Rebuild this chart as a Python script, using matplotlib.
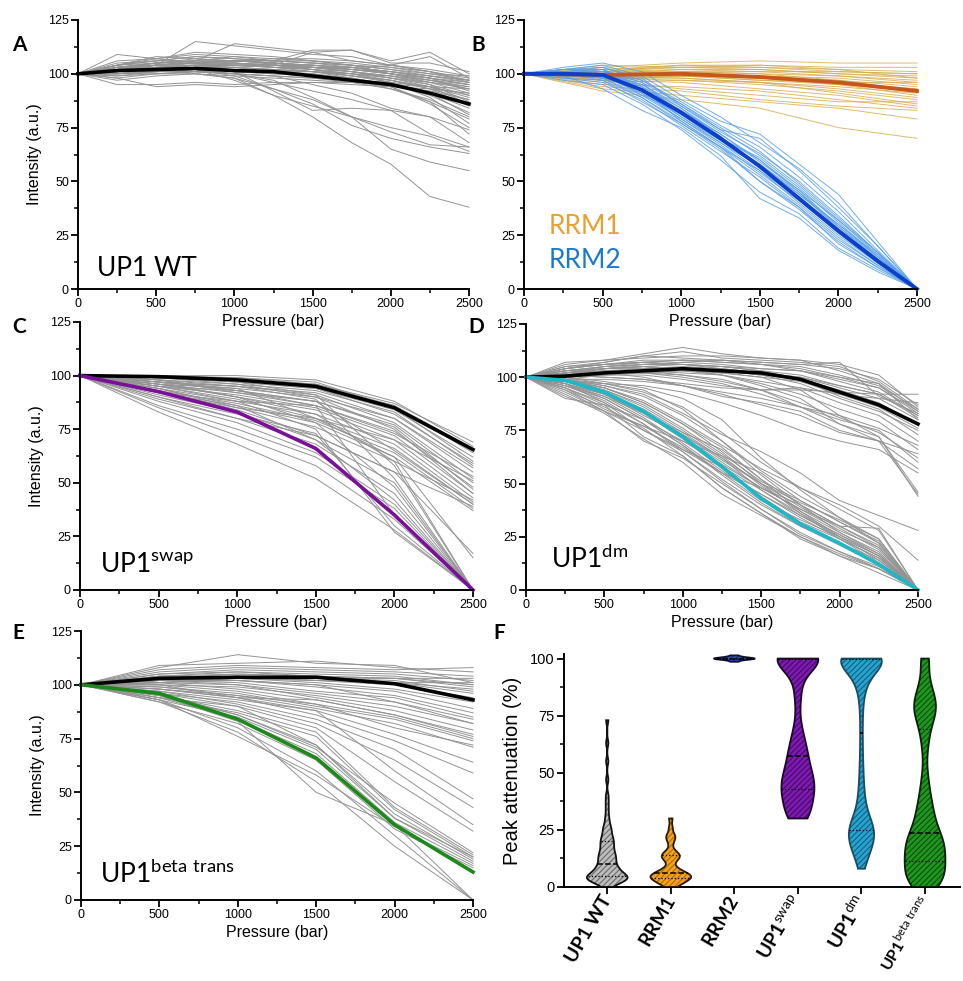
import numpy as np
import matplotlib
matplotlib.use("Agg")
import matplotlib.pyplot as plt
from matplotlib.patches import PathPatch
from matplotlib.ticker import MultipleLocator

plt.rcParams['font.family'] = ['Liberation Sans', 'DejaVu Sans']
plt.rcParams['mathtext.fontset'] = 'custom'
plt.rcParams['mathtext.rm'] = 'Lato'
plt.rcParams['mathtext.bf'] = 'Lato:bold'
plt.rcParams['hatch.linewidth'] = 0.8

# pressure steps
p11 = [0, 250, 500, 750, 1000, 1250, 1500, 1750, 2000, 2250, 2500]
p6 = [0, 500, 1000, 1500, 2000, 2500]

# A: UP1 WT traces (11 points)
wt_traces = [
    [100, 104, 106, 108, 107, 106, 105, 104, 102, 99, 96],
    [100, 103, 105, 106, 108, 107, 106, 104, 103, 101, 98],
    [100, 102, 104, 105, 106, 105, 104, 103, 101, 98, 95],
    [100, 101, 102, 104, 105, 104, 104, 102, 100, 97, 94],
    [100, 106, 107, 109, 108, 106, 105, 103, 101, 98, 92],
    [100, 109, 107, 110, 109, 108, 106, 105, 103, 100, 97],
    [100, 103, 104, 115, 113, 111, 109, 108, 104, 102, 99],
    [100, 102, 105, 106, 114, 112, 110, 106, 104, 101, 97],
    [100, 104, 107, 105, 106, 106, 111, 111, 106, 110, 100],
    [100, 100, 101, 102, 103, 104, 110, 111, 105, 105, 101],
    [100, 101, 103, 104, 104, 103, 103, 102, 104, 108, 98],
    [100, 98, 100, 101, 101, 102, 101, 100, 99, 97, 95],
    [100, 97, 99, 100, 99, 98, 97, 96, 95, 94, 93],
    [100, 95, 95, 96, 95, 96, 96, 95, 94, 93, 91],
    [100, 98, 94, 95, 94, 95, 96, 96, 95, 92, 88],
    [100, 99, 100, 101, 100, 99, 98, 97, 96, 94, 90],
    [100, 102, 103, 104, 103, 102, 101, 99, 97, 94, 89],
    [100, 103, 105, 107, 106, 105, 103, 101, 98, 95, 87],
    [100, 101, 104, 104, 105, 104, 102, 99, 97, 93, 85],
    [100, 102, 102, 103, 103, 101, 100, 98, 95, 91, 84],
    [100, 104, 106, 106, 105, 103, 101, 98, 95, 90, 82],
    [100, 100, 101, 101, 100, 99, 98, 96, 93, 88, 80],
    [100, 102, 103, 102, 101, 100, 99, 97, 93, 87, 79],
    [100, 103, 104, 105, 104, 103, 102, 100, 96, 89, 77],
    [100, 101, 102, 103, 102, 101, 100, 97, 94, 86, 75],
    [100, 104, 108, 107, 106, 105, 103, 101, 99, 96, 93],
    [100, 105, 106, 108, 107, 106, 106, 104, 100, 96, 91],
    [100, 102, 104, 106, 106, 105, 104, 103, 101, 99, 97],
    [100, 103, 105, 105, 104, 104, 103, 103, 100, 98, 96],
    [100, 101, 104, 105, 106, 106, 105, 104, 102, 100, 99],
    [100, 102, 103, 104, 104, 103, 102, 101, 98, 94, 86],
    [100, 100, 102, 103, 103, 102, 101, 99, 96, 91, 81],
    [100, 101, 101, 102, 101, 100, 99, 97, 94, 87, 72],
    [100, 101, 102, 101, 100, 96, 92, 88, 83, 72, 66],
    [100, 102, 103, 102, 97, 90, 85, 80, 73, 67, 66],
    [100, 101, 102, 100, 98, 93, 88, 80, 65, 59, 55],
    [100, 100, 100, 100, 98, 90, 80, 68, 58, 43, 38],
    [100, 102, 103, 102, 99, 93, 86, 76, 70, 66, 63],
    [100, 101, 102, 102, 100, 97, 89, 80, 75, 71, 64],
    [100, 100, 101, 101, 100, 99, 95, 91, 84, 80, 68],
    [100, 101, 102, 102, 101, 92, 83, 84, 83, 80, 74],
    [100, 103, 104, 104, 104, 104, 102, 100, 97, 93, 88],
    [100, 102, 104, 105, 105, 104, 103, 102, 100, 97, 93],
    [100, 104, 105, 106, 106, 105, 104, 102, 100, 98, 95],
    [100, 101, 103, 103, 104, 104, 103, 102, 101, 99, 97],
    [100, 103, 104, 105, 106, 107, 107, 106, 104, 101, 96],
    [100, 102, 101, 103, 104, 105, 103, 101, 99, 95, 90],
    [100, 99, 101, 102, 102, 101, 101, 100, 98, 96, 94],
]
wt_mean = [100, 101.5, 102, 102.5, 101.5, 101, 99, 97, 95, 91, 86]

# B: RRM1 (6 points) and RRM2 (11 points)
rrm1_traces = [
    [100, 103, 105, 106, 105, 105],
    [100, 102, 104, 104, 103, 103],
    [100, 101, 103, 103, 101, 100],
    [100, 100, 102, 102, 100, 98],
    [100, 101, 102, 101, 99, 97],
    [100, 99, 101, 100, 99, 96],
    [100, 100, 100, 99, 98, 95],
    [100, 98, 99, 98, 97, 94],
    [100, 99, 100, 99, 96, 93],
    [100, 101, 101, 100, 97, 92],
    [100, 97, 99, 97, 95, 90],
    [100, 98, 98, 96, 93, 89],
    [100, 96, 97, 95, 92, 88],
    [100, 99, 98, 96, 91, 86],
    [100, 97, 96, 93, 90, 85],
    [100, 95, 94, 92, 88, 84],
    [100, 94, 92, 88, 85, 83],
    [100, 93, 90, 87, 84, 79],
    [100, 92, 88, 84, 75, 70],
    [100, 97, 93, 90, 87, 87],
    [100, 102, 103, 102, 100, 99],
    [100, 101, 104, 103, 102, 101],
    [100, 100, 101, 101, 101, 100],
    [100, 98, 97, 96, 94, 91],
    [100, 99, 99, 98, 95, 93],
    [100, 104, 103, 104, 102, 98],
    [100, 100, 99, 97, 96, 96],
]
rrm1_mean = [100, 99.5, 100, 98.5, 96, 92]

rrm2_traces = [
    [100, 102, 104, 99, 88, 78, 72, 58, 44, 22, 0],
    [100, 103, 105, 101, 90, 80, 68, 56, 40, 20, 0],
    [100, 101, 102, 96, 86, 74, 62, 48, 32, 16, 0],
    [100, 100, 100, 94, 83, 72, 60, 45, 28, 14, 0],
    [100, 99, 99, 92, 80, 68, 55, 40, 25, 12, 0],
    [100, 98, 97, 89, 77, 65, 50, 37, 22, 10, 0],
    [100, 97, 95, 86, 74, 60, 45, 35, 19, 9, 0],
    [100, 99, 93, 83, 75, 62, 42, 33, 18, 8, 0],
    [100, 101, 101, 97, 87, 76, 66, 52, 36, 18, 0],
    [100, 102, 103, 98, 85, 73, 63, 50, 34, 17, 0],
    [100, 100, 98, 93, 82, 70, 58, 44, 30, 15, 0],
    [100, 99, 100, 95, 84, 72, 59, 46, 29, 14, 0],
    [100, 101, 99, 91, 79, 67, 54, 41, 26, 13, 0],
    [100, 100, 101, 96, 81, 69, 57, 42, 27, 13, 0],
    [100, 102, 102, 93, 78, 66, 53, 39, 24, 11, 0],
    [100, 98, 96, 88, 76, 64, 52, 38, 23, 11, 0],
    [100, 101, 100, 90, 82, 70, 61, 47, 31, 15, 0],
    [100, 100, 102, 94, 84, 71, 56, 43, 28, 14, 0],
    [100, 99, 98, 90, 79, 68, 57, 44, 29, 15, 0],
    [100, 101, 103, 97, 86, 75, 64, 49, 33, 17, 0],
    [100, 100, 97, 87, 77, 66, 55, 42, 26, 12, 0],
    [100, 102, 101, 95, 85, 74, 70, 55, 38, 20, 0],
    [100, 99, 100, 92, 80, 69, 58, 45, 30, 16, 0],
    [100, 101, 98, 89, 78, 66, 50, 38, 21, 10, 0],
    [100, 100, 99, 91, 81, 70, 60, 46, 32, 17, 0],
]
rrm2_mean = [100, 100, 99.5, 92.5, 82, 70, 57, 42, 27, 13, 0]

# C: UP1 swap (6 points)
swap_traces = [
    [100, 100, 99, 96, 87, 69],
    [100, 100, 100, 98, 88, 67],
    [100, 99, 98, 95, 86, 64],
    [100, 100, 97, 94, 84, 62],
    [100, 99, 99, 97, 85, 60],
    [100, 98, 96, 93, 83, 58],
    [100, 97, 94, 90, 80, 57],
    [100, 98, 95, 91, 78, 52],
    [100, 96, 92, 88, 77, 50],
    [100, 97, 93, 86, 74, 48],
    [100, 95, 91, 85, 72, 45],
    [100, 96, 90, 84, 70, 43],
    [100, 94, 88, 82, 68, 41],
    [100, 95, 89, 80, 66, 40],
    [100, 93, 87, 79, 64, 38],
    [100, 92, 86, 78, 62, 37],
    [100, 96, 94, 80, 70, 51],
    [100, 98, 92, 86, 73, 53],
    [100, 94, 85, 76, 60, 42],
    [100, 90, 80, 72, 55, 39],
    [100, 91, 83, 70, 50, 0],
    [100, 89, 80, 68, 45, 0],
    [100, 88, 78, 64, 40, 0],
    [100, 86, 75, 62, 38, 0],
    [100, 85, 72, 58, 33, 0],
    [100, 83, 68, 52, 28, 0],
    [100, 90, 82, 73, 30, 0],
    [100, 95, 88, 75, 27, 0],
    [100, 93, 84, 72, 55, 17],
    [100, 92, 85, 80, 62, 15],
    [100, 97, 90, 78, 48, 0],
    [100, 94, 86, 70, 42, 0],
    [100, 92, 88, 86, 35, 0],
    [100, 96, 90, 82, 60, 0],
    [100, 98, 93, 88, 65, 40],
    [100, 99, 96, 90, 75, 45],
    [100, 97, 95, 92, 80, 55],
    [100, 95, 93, 88, 76, 47],
    [100, 99, 97, 94, 82, 59],
    [100, 100, 98, 96, 86, 66],
    [100, 99, 97, 91, 58, 0],
    [100, 97, 95, 89, 52, 0],
]
swap_black = [100, 99.5, 98, 95, 85, 65.5]
swap_purple = [100, 92.5, 83, 66, 35, 0]

# D: UP1 dm (11 points)
dm_traces = [
    [100, 105, 107, 110, 112, 109, 108, 107, 105, 98, 85],
    [100, 107, 108, 111, 114, 111, 109, 108, 103, 97, 84],
    [100, 104, 106, 108, 108, 107, 106, 104, 100, 95, 83],
    [100, 103, 105, 106, 107, 106, 104, 103, 98, 93, 82],
    [100, 102, 104, 105, 106, 105, 103, 101, 96, 92, 81],
    [100, 101, 103, 104, 105, 104, 102, 100, 95, 90, 80],
    [100, 100, 102, 103, 104, 103, 101, 99, 94, 88, 78],
    [100, 99, 101, 102, 103, 102, 100, 98, 92, 86, 76],
    [100, 102, 104, 105, 104, 103, 101, 97, 90, 84, 75],
    [100, 104, 106, 107, 106, 105, 103, 99, 91, 85, 73],
    [100, 101, 102, 103, 102, 101, 98, 95, 88, 82, 70],
    [100, 103, 104, 104, 103, 101, 97, 92, 85, 79, 66],
    [100, 102, 103, 103, 101, 98, 94, 88, 81, 74, 62],
    [100, 100, 101, 101, 99, 96, 94, 94, 93, 92, 92],
    [100, 101, 100, 99, 97, 95, 94, 95, 92, 90, 88],
    [100, 102, 103, 102, 100, 97, 92, 86, 80, 75, 60],
    [100, 101, 102, 100, 96, 92, 87, 82, 74, 70, 57],
    [100, 103, 105, 106, 107, 108, 107, 106, 107, 91, 83],
    [100, 106, 108, 109, 110, 110, 109, 108, 106, 101, 86],
    [100, 104, 107, 110, 109, 108, 107, 106, 104, 99, 87],
    [100, 102, 104, 106, 106, 105, 104, 103, 100, 97, 80],
    [100, 101, 104, 105, 103, 102, 100, 94, 82, 72, 46],
    [100, 100, 102, 102, 101, 99, 94, 86, 78, 72, 44],
    [100, 103, 104, 105, 104, 101, 96, 90, 78, 70, 45],
    [100, 101, 100, 99, 96, 91, 88, 84, 75, 70, 64],
    [100, 98, 97, 96, 93, 88, 82, 75, 70, 66, 55],
    [100, 99, 99, 98, 96, 93, 90, 86, 82, 76, 68],
    [100, 104, 106, 107, 108, 107, 106, 105, 101, 96, 85],
    [100, 105, 106, 107, 108, 108, 106, 103, 99, 95, 84],
    [100, 102, 105, 107, 106, 104, 102, 100, 96, 92, 82],
    [100, 99, 95, 88, 78, 67, 52, 40, 30, 21, 0],
    [100, 98, 94, 86, 75, 63, 49, 37, 27, 18, 0],
    [100, 97, 92, 83, 71, 57, 44, 32, 24, 15, 0],
    [100, 96, 90, 80, 68, 54, 41, 30, 21, 12, 0],
    [100, 95, 88, 78, 65, 51, 38, 27, 18, 10, 0],
    [100, 94, 86, 76, 63, 48, 36, 25, 16, 8, 0],
    [100, 99, 96, 91, 82, 70, 56, 44, 34, 24, 0],
    [100, 100, 97, 93, 86, 74, 60, 48, 38, 28, 0],
    [100, 97, 91, 81, 69, 56, 45, 35, 26, 17, 0],
    [100, 93, 84, 75, 65, 52, 40, 30, 22, 14, 0],
    [100, 92, 83, 71, 60, 45, 35, 25, 17, 10, 0],
    [100, 90, 87, 80, 68, 55, 42, 33, 25, 16, 0],
    [100, 98, 93, 84, 72, 60, 48, 38, 28, 20, 0],
    [100, 99, 94, 87, 76, 64, 51, 42, 32, 22, 0],
    [100, 96, 89, 78, 66, 58, 47, 36, 26, 16, 0],
    [100, 95, 85, 77, 67, 55, 45, 34, 24, 15, 0],
    [100, 98, 92, 82, 73, 62, 50, 39, 29, 19, 0],
    [100, 97, 90, 80, 70, 59, 48, 38, 30, 20, 0],
    [100, 94, 84, 70, 62, 50, 38, 26, 18, 11, 0],
    [100, 99, 97, 94, 85, 70, 54, 40, 27, 17, 0],
    [100, 100, 98, 95, 90, 80, 62, 47, 34, 22, 0],
    [100, 98, 95, 89, 79, 68, 57, 48, 40, 30, 14],
    [100, 99, 96, 92, 83, 73, 65, 55, 42, 35, 28],
    [100, 97, 88, 75, 66, 55, 48, 40, 30, 29, 0],
    [100, 95, 87, 72, 63, 48, 36, 24, 16, 10, 0],
    [100, 91, 84, 77, 70, 63, 55, 42, 32, 23, 0],
    [100, 98, 93, 85, 74, 62, 47, 35, 25, 16, 0],
    [100, 96, 91, 83, 74, 66, 52, 37, 25, 14, 0],
    [100, 99, 95, 88, 78, 65, 50, 36, 24, 13, 0],
    [100, 97, 92, 84, 73, 61, 50, 41, 33, 24, 0],
]
dm_black = [100, 100.5, 102, 103, 104, 103, 102, 99, 93, 87, 78]
dm_cyan = [100, 98.5, 93, 84, 72, 58, 43, 31, 22, 12, 0]

# E: UP1 beta trans (6 points)
beta_traces = [
    [100, 108, 114, 110, 109, 101],
    [100, 109, 110, 111, 108, 106],
    [100, 107, 109, 108, 107, 108],
    [100, 106, 108, 107, 106, 104],
    [100, 105, 107, 106, 105, 102],
    [100, 104, 106, 105, 104, 100],
    [100, 103, 105, 104, 103, 99],
    [100, 102, 104, 103, 102, 97],
    [100, 104, 105, 104, 101, 96],
    [100, 103, 104, 102, 100, 94],
    [100, 102, 103, 101, 98, 92],
    [100, 101, 102, 100, 97, 89],
    [100, 103, 102, 99, 95, 87],
    [100, 102, 101, 97, 94, 85],
    [100, 101, 100, 96, 92, 84],
    [100, 100, 99, 95, 90, 82],
    [100, 102, 100, 94, 88, 79],
    [100, 101, 98, 93, 86, 77],
    [100, 100, 97, 91, 85, 75],
    [100, 99, 96, 90, 84, 74],
    [100, 98, 95, 89, 82, 71],
    [100, 104, 103, 102, 101, 101],
    [100, 105, 106, 104, 103, 103],
    [100, 103, 104, 103, 103, 100],
    [100, 101, 103, 102, 101, 98],
    [100, 100, 94, 93, 86, 76],
    [100, 99, 95, 91, 80, 72],
    [100, 102, 102, 100, 92, 82],
    [100, 97, 93, 88, 77, 64],
    [100, 98, 94, 86, 74, 59],
    [100, 96, 92, 84, 70, 47],
    [100, 97, 91, 82, 65, 43],
    [100, 98, 94, 88, 60, 35],
    [100, 96, 90, 80, 55, 32],
    [100, 95, 88, 78, 43, 21],
    [100, 94, 87, 76, 42, 20],
    [100, 96, 86, 72, 40, 19],
    [100, 93, 85, 70, 38, 18],
    [100, 94, 84, 68, 36, 17],
    [100, 92, 82, 65, 33, 15],
    [100, 93, 80, 60, 30, 0],
    [100, 92, 78, 55, 25, 0],
    [100, 95, 83, 50, 35, 0],
    [100, 94, 90, 72, 38, 20],
    [100, 93, 76, 58, 34, 16],
    [100, 95, 86, 71, 45, 22],
]
beta_black = [100, 103, 103.5, 103.5, 100.5, 93]
beta_green = [100, 96, 84, 66, 35, 13]

# F: peak attenuation (%) per construct
f_labels = ['UP1 WT', 'RRM1', 'RRM2', r'UP1$^{\mathrm{swap}}$',
            r'UP1$^{\mathrm{dm}}$', r'UP1$^{\mathrm{beta\ trans}}$']
att_wt = [0, 1, 1, 2, 2, 2, 3, 3, 3, 3, 3, 4, 4, 4, 4, 4, 4, 5, 5, 5, 5, 5, 6, 6, 6,
          7, 7, 7, 8, 8, 8, 9, 9, 10, 10, 11, 11, 12, 12,
          13, 13, 14, 14, 15, 15, 16, 17, 17, 18, 19, 19,
          20, 21, 21, 22, 23, 24, 25, 26, 27, 29, 31, 34, 37, 40, 47, 55, 63, 73]
att_rrm1 = [0, 1, 1, 2, 2, 3, 3, 3, 4, 4, 4, 4, 5, 5, 5, 5, 6, 6, 6, 7, 7, 8, 9, 11,
            12, 13, 13, 14, 14, 15, 16, 19, 21, 22, 23, 26, 30]
att_rrm2 = [98.6, 99.2, 99.6, 99.8, 100, 100, 100, 100, 100.2, 100.4, 100.8, 101.4]
att_swap = [30, 30, 31, 32, 33, 35, 36, 38, 39, 40, 41, 42, 43, 44, 45, 46, 47, 48, 49,
            50, 52, 53, 55, 57, 58, 60, 62, 64, 67, 71, 80, 86, 90, 95, 98,
            100, 100, 100, 100, 100, 100, 100, 100, 100, 100, 100, 100, 100]
att_dm = [8, 11, 13, 15, 16, 17, 18, 19, 20, 21, 22, 22, 23, 24, 25, 25, 26, 27, 28, 29,
          30, 32, 34, 37, 40, 44, 49, 55, 63, 72, 80, 85, 88, 90, 92, 93, 94, 95, 96,
          97, 98, 99, 100, 100, 100, 100, 100, 100, 100, 100, 100, 100, 100, 100, 100,
          100, 100, 100]
att_beta = [0, 0, 1, 2, 3, 4, 5, 6, 7, 8, 9, 10, 11, 12, 13, 14, 15, 16, 17, 18, 19, 20,
            21, 22, 23, 24, 26, 28, 30, 32, 34, 37, 40, 44, 50, 60, 66, 70, 73, 75, 77,
            78, 80, 81, 83, 85, 88, 92, 100, 100]

W, H = 963, 981
fig = plt.figure(figsize=(W / 100, H / 100), dpi=100)

GRAY = '#939393'


def px_axes(l, t, r, b):
    ax = fig.add_axes([l / W, 1 - b / H, (r - l) / W, (b - t) / H])
    ax.patch.set_visible(False)
    return ax


def style_axes(ax):
    for s in ['top', 'right']:
        ax.spines[s].set_visible(False)
    for s in ['left', 'bottom']:
        ax.spines[s].set_linewidth(1.4)
    ax.tick_params(which='major', length=5, width=1.3, labelsize=9, pad=1.5)
    ax.tick_params(which='minor', length=3, width=1.1)


def pressure_axes(ax, ylabel=True):
    ax.set_xlim(0, 2500)
    ax.set_ylim(0, 125)
    ax.xaxis.set_major_locator(MultipleLocator(500))
    ax.xaxis.set_minor_locator(MultipleLocator(250))
    ax.yaxis.set_major_locator(MultipleLocator(25))
    ax.yaxis.set_minor_locator(MultipleLocator(12.5))
    style_axes(ax)
    ax.set_xlabel('Pressure (bar)', fontsize=11.5, labelpad=3)
    if ylabel:
        ax.set_ylabel('Intensity (a.u.)', fontsize=11.5, labelpad=4)


def label(x, y, s, **kw):
    fig.text(x / W, 1 - y / H, s, **kw)


# ---- A
axA = px_axes(78, 20, 469, 289)
for tr in wt_traces:
    axA.plot(p11, tr, color=GRAY, lw=0.7, clip_on=False)
axA.plot(p11, wt_mean, color='black', lw=2.6, clip_on=False)
pressure_axes(axA)
label(97, 276, 'UP1 WT', family='Lato', fontsize=19)

# ---- B
axB = px_axes(524, 20, 917, 289)
for tr in rrm1_traces:
    axB.plot(p6, tr, color='#d6aa4a', lw=0.7, alpha=0.8, clip_on=False)
for tr in rrm2_traces:
    axB.plot(p11, tr, color='#5a9fe6', lw=0.7, alpha=0.85, clip_on=False)
axB.plot(p6, rrm1_mean, color='#c6561c', lw=2.8, clip_on=False)
axB.plot(p11, rrm2_mean, color='#0b3fcc', lw=2.8, clip_on=False)
pressure_axes(axB, ylabel=False)
label(549, 234, 'RRM1', family='Lato', fontsize=19, color='#e8a030')
label(549, 268, 'RRM2', family='Lato', fontsize=19, color='#1a7ad2')

# ---- C
axC = px_axes(80, 322, 473, 590)
for tr in swap_traces:
    axC.plot(p6, tr, color=GRAY, lw=0.7, clip_on=False)
axC.plot(p6, swap_black, color='black', lw=2.6, clip_on=False)
axC.plot(p6, swap_purple, color='#7a0f9a', lw=2.6, clip_on=False)
pressure_axes(axC)
label(100, 573, r'UP1$^{\mathrm{swap}}$', family='Lato', fontsize=19)

# ---- D
axD = px_axes(526, 324, 918, 590)
for tr in dm_traces:
    axD.plot(p11, tr, color=GRAY, lw=0.7, clip_on=False)
axD.plot(p11, dm_black, color='black', lw=2.6, clip_on=False)
axD.plot(p11, dm_cyan, color='#1cb8c8', lw=2.6, clip_on=False)
pressure_axes(axD, ylabel=False)
label(551, 568, r'UP1$^{\mathrm{dm}}$', family='Lato', fontsize=19)

# ---- E
axE = px_axes(81, 631, 473, 900)
for tr in beta_traces:
    axE.plot(p6, tr, color=GRAY, lw=0.7, clip_on=False)
axE.plot(p6, beta_black, color='black', lw=2.6, clip_on=False)
axE.plot(p6, beta_green, color='#1b8a1b', lw=2.6, clip_on=False)
pressure_axes(axE)
label(100, 883, r'UP1$^{\mathrm{beta\ trans}}$', family='Lato', fontsize=19)

# ---- F violins
axF = px_axes(564, 654, 960, 887)
groups = [att_wt, att_rrm1, att_rrm2, att_swap, att_dm, att_beta]
fills = ['#bdbdbd', '#f4a21e', '#2a55e0', '#7d1bb0', '#26a4cf', '#1f961f']
hatch_cols = ['#6a6a6a', '#b06a08', '#122d90', '#46086a', '#145f80', '#0b500b']
edges = ['#111111', '#2a1a05', '#111133', '#1a0a25', '#1a4a66', '#0a200a']
bws = [0.11, 0.19, 0.6, 0.2, 0.14, 0.16]
for i, data in enumerate(groups):
    vp = axF.violinplot([data], positions=[i], widths=0.64, showextrema=False,
                        bw_method=bws[i], points=300)
    body = vp['bodies'][0]
    path = body.get_paths()[0]
    body.remove()
    axF.add_patch(PathPatch(path, facecolor=fills[i], edgecolor=hatch_cols[i],
                            hatch='//////', lw=0, zorder=2))
    axF.add_patch(PathPatch(path, fill=False, edgecolor=edges[i], lw=1.3, zorder=3))
    v = path.vertices
    right = v[v[:, 0] >= i]
    order = np.argsort(right[:, 1])
    ys, xs = right[order, 1], right[order, 0]
    q1, med, q3 = np.percentile(data, [25, 50, 75])
    for q, ls, lw in [(q1, ':', 0.9), (med, '--', 1.1), (q3, ':', 0.9)]:
        hw = np.interp(q, ys, xs) - i
        if hw > 0.02:
            axF.plot([i - hw, i + hw], [q, q], color='black', ls=ls, lw=lw, zorder=4)

axF.set_xlim(-0.68, 5.55)
axF.set_ylim(0, 102)
axF.yaxis.set_major_locator(MultipleLocator(25))
axF.yaxis.set_minor_locator(MultipleLocator(12.5))
axF.set_xticks(range(6))
style_axes(axF)
axF.tick_params(axis='y', labelsize=10.5)
axF.set_xticklabels(f_labels, family='Lato', fontweight='bold', fontsize=14,
                    rotation=60, ha='right', va='center', rotation_mode='anchor')
axF.get_xticklabels()[5].set_fontsize(11.5)
axF.tick_params(axis='x', pad=2)
axF.set_ylabel('Peak attenuation (%)', fontsize=14.5, labelpad=6)

# panel letters
for (x, y, s) in [(12, 45, 'A'), (471, 45, 'B'), (12, 327, 'C'), (468, 327, 'D'),
                  (12, 633, 'E'), (493, 633, 'F')]:
    label(x, y, s, family='Lato', fontweight='bold', fontsize=15, va='center')

fig.savefig('out.png', dpi=100)
